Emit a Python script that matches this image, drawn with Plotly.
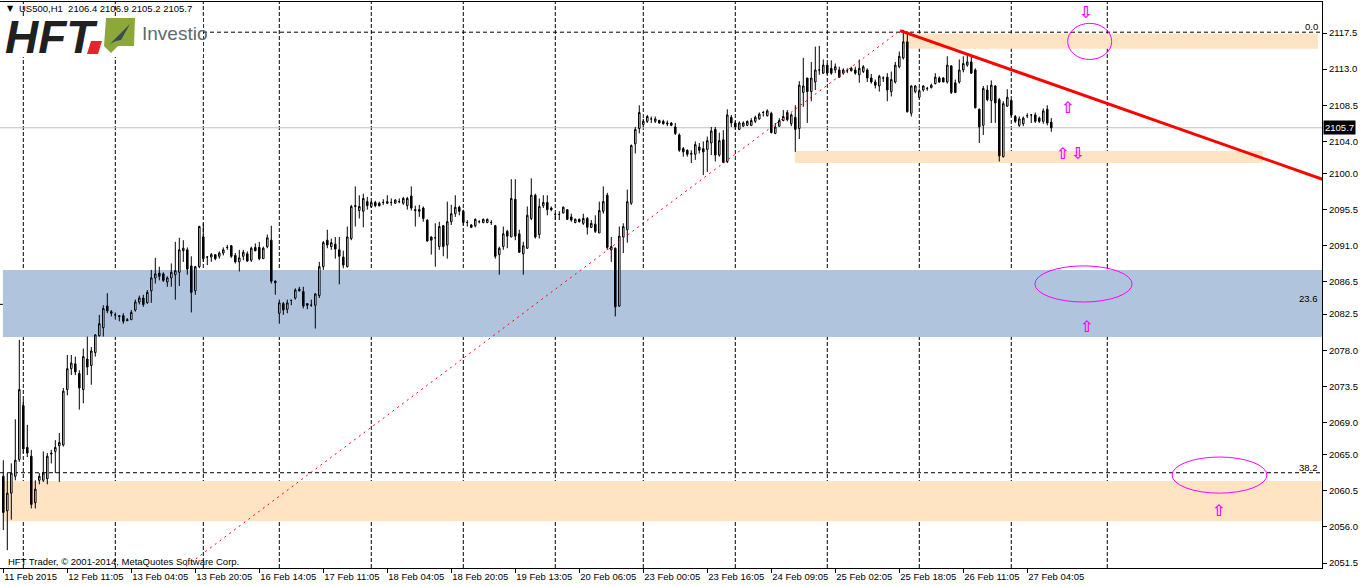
import plotly.graph_objects as go

# ---------------- data (US500, H1) ----------------
bar_open = [
 2062.3,2058.0,2060.2,2062.3,2064.4,2071.1,2065.9,2064.8,2059.0,2061.8,
 2061.8,2062.0,2065.2,2065.4,2066.1,2066.2,2073.1,2075.7,2076.3,2075.1,
 2073.1,2076.9,2076.1,2077.7,2079.8,2080.8,2083.5,2082.8,2082.4,2082.3,
 2082.3,2081.8,2081.8,2083.0,2084.0,2084.5,2083.9,2085.4,2087.0,2087.6,
 2087.5,2086.5,2087.0,2087.4,2087.7,2090.4,2090.5,2088.5,2085.4,2088.4,
 2092.1,2089.6,2089.6,2089.9,2089.7,2090.1,2090.8,2091.0,2089.8,2089.0,
 2089.7,2090.0,2089.2,2090.8,2090.8,2089.4,2090.9,2091.7,2086.6,2082.6,
 2083.8,2083.1,2084.2,2084.5,2085.6,2085.3,2083.8,2083.6,2083.6,2084.8,
 2088.4,2091.7,2090.9,2091.2,2090.5,2089.6,2088.4,2091.9,2095.9,2095.4,
 2095.3,2096.5,2095.9,2096.4,2096.3,2096.4,2096.3,2096.4,2096.3,2096.5,
 2096.3,2096.0,2097.2,2095.5,2095.3,2095.7,2094.2,2092.1,2092.0,2090.9,
 2093.5,2091.1,2094.0,2095.0,2095.8,2095.3,2093.9,2093.6,2093.5,2094.0,
 2093.9,2093.9,2093.9,2093.5,2089.9,2090.9,2092.8,2092.1,2096.8,2092.5,
 2090.0,2090.7,2094.4,2097.3,2092.4,2096.0,2096.4,2095.7,2094.9,2094.9,
 2095.1,2095.5,2094.6,2093.9,2094.3,2093.8,2094.4,2093.3,2093.7,2092.6,
 2095.3,2097.3,2090.5,2090.7,2083.5,2092.1,2093.0,2096.3,2103.7,2105.6,
 2106.1,2106.5,2106.8,2106.5,2106.6,2106.5,2106.3,2106.3,2105.8,2104.8,
 2103.1,2102.9,2102.4,2102.4,2103.3,2103.1,2103.0,2103.8,2105.5,2102.3,
 2104.2,2101.5,2107.0,2106.3,2105.5,2105.9,2106.0,2106.0,2106.5,2106.8,
 2107.6,2107.2,2107.5,2105.0,2105.9,2106.6,2107.6,2106.2,2107.0,2105.6,
 2110.1,2111.9,2110.2,2111.4,2112.9,2112.5,2113.5,2113.1,2112.9,2112.9,
 2112.5,2112.8,2112.8,2112.9,2112.3,2112.7,2112.9,2111.9,2111.4,2110.9,
 2111.9,2112.0,2110.2,2111.4,2113.3,2114.4,2116.4,2107.5,2110.2,2109.5,
 2110.4,2110.6,2110.7,2111.2,2111.9,2111.9,2111.4,2113.4,2111.3,2111.4,
 2112.9,2113.5,2113.9,2112.9,2108.0,2106.0,2110.4,2109.1,2110.9,2109.2,
 2102.1,2108.4,2109.1,2107.1,2106.0,2106.2,2107.2,2107.3,2107.3,2106.9,
 2106.5,2108.0,2106.4]
bar_high = [
 2064.3,2062.7,2063.9,2069.4,2079.3,2071.8,2068.7,2065.6,2061.8,2062.7,
 2065.4,2065.2,2065.6,2066.8,2067.7,2073.3,2077.4,2077.4,2077.2,2075.5,
 2078.2,2079.7,2078.4,2080.0,2082.4,2083.6,2085.1,2083.0,2082.7,2082.3,
 2082.6,2082.0,2083.0,2084.3,2084.8,2084.9,2085.5,2088.0,2089.5,2088.4,
 2087.7,2087.2,2088.8,2091.5,2092.0,2091.7,2090.8,2089.7,2088.5,2093.5,
 2093.8,2089.7,2090.1,2089.9,2090.3,2090.8,2091.1,2091.1,2090.1,2090.5,
 2090.5,2090.3,2090.9,2091.3,2091.5,2090.9,2092.4,2093.5,2086.7,2084.3,
 2084.0,2084.3,2084.3,2085.7,2085.9,2085.9,2083.8,2084.3,2085.1,2089.0,
 2091.6,2093.0,2091.9,2092.1,2092.1,2090.4,2093.4,2096.1,2098.4,2097.3,
 2097.5,2097.1,2096.6,2096.6,2096.5,2096.8,2097.3,2096.9,2096.8,2096.9,
 2097.1,2097.1,2098.4,2096.0,2096.1,2095.9,2094.3,2092.2,2093.8,2094.0,
 2093.6,2096.5,2096.1,2097.3,2096.0,2095.5,2094.2,2093.7,2094.4,2094.2,
 2094.4,2094.4,2094.2,2093.6,2090.9,2093.4,2093.0,2099.3,2099.3,2093.0,
 2091.5,2095.9,2099.4,2097.5,2096.9,2097.3,2097.3,2095.9,2095.1,2095.3,
 2095.9,2095.5,2095.0,2094.4,2094.4,2095.0,2094.6,2094.2,2094.8,2096.5,
 2098.4,2097.6,2092.1,2090.8,2093.4,2093.8,2098.0,2103.6,2105.8,2108.5,
 2106.8,2107.3,2107.1,2107.1,2106.7,2106.7,2106.6,2106.4,2106.3,2105.0,
 2103.3,2103.0,2102.9,2104.0,2103.8,2104.0,2104.6,2105.8,2105.8,2105.1,
 2105.4,2108.0,2107.3,2106.5,2106.5,2106.5,2106.6,2106.9,2107.2,2107.6,
 2107.8,2108.0,2107.7,2106.3,2106.9,2107.9,2107.9,2107.5,2108.5,2111.5,
 2114.4,2111.9,2113.9,2115.8,2115.9,2114.2,2113.7,2114.1,2113.7,2113.3,
 2113.1,2113.1,2113.3,2113.3,2114.2,2113.5,2113.1,2112.4,2111.7,2112.3,
 2112.1,2112.5,2112.7,2113.9,2115.2,2117.9,2117.7,2111.0,2111.0,2110.6,
 2111.0,2110.8,2111.2,2112.5,2112.1,2112.0,2114.6,2113.5,2111.7,2114.2,
 2114.6,2115.0,2114.6,2113.1,2108.1,2110.9,2111.0,2111.6,2111.0,2109.4,
 2109.0,2110.5,2109.2,2107.3,2107.1,2107.1,2107.5,2107.3,2107.6,2107.1,
 2108.1,2108.5,2106.9]
bar_low = [
 2055.6,2053.1,2056.9,2061.8,2064.1,2065.2,2064.7,2058.3,2058.3,2061.3,
 2061.6,2061.3,2063.9,2062.7,2061.6,2066.0,2072.4,2074.9,2074.9,2070.6,
 2071.4,2074.9,2073.7,2077.2,2079.7,2079.7,2082.6,2082.2,2081.8,2081.6,
 2081.3,2081.6,2081.8,2082.8,2083.7,2083.4,2083.8,2083.9,2086.3,2086.7,
 2086.5,2085.9,2085.9,2084.3,2086.0,2089.0,2087.4,2082.7,2084.9,2088.2,
 2089.0,2088.6,2089.0,2089.2,2089.4,2089.8,2090.5,2089.5,2088.8,2087.8,
 2089.2,2089.0,2089.0,2090.3,2089.2,2089.4,2090.7,2086.3,2084.9,2081.3,
 2082.4,2082.6,2083.6,2084.3,2085.3,2083.2,2083.1,2083.4,2080.7,2084.5,
 2088.0,2090.7,2090.5,2089.4,2086.2,2088.2,2088.3,2091.7,2093.4,2094.4,
 2093.3,2095.5,2095.7,2095.8,2095.9,2096.1,2096.2,2096.0,2096.2,2096.3,
 2096.1,2095.5,2095.4,2093.4,2094.6,2094.0,2091.5,2089.9,2088.4,2090.5,
 2089.7,2089.4,2093.6,2094.6,2094.8,2093.6,2093.4,2093.2,2093.3,2093.8,
 2093.8,2093.8,2093.6,2089.4,2087.4,2090.5,2090.7,2092.1,2091.7,2090.1,
 2087.4,2090.6,2094.2,2091.9,2091.9,2095.7,2094.8,2095.3,2094.2,2094.2,
 2095.0,2094.2,2094.0,2093.8,2093.9,2093.6,2092.4,2093.2,2092.6,2092.6,
 2095.0,2090.5,2089.0,2082.2,2083.4,2090.1,2091.4,2096.1,2102.5,2105.0,
 2105.8,2106.3,2106.3,2106.3,2106.2,2106.1,2105.9,2105.9,2104.8,2102.7,
 2102.1,2102.1,2101.3,2101.7,2102.5,2099.8,2100.2,2102.3,2101.5,2102.1,
 2101.3,2101.3,2105.8,2105.5,2105.4,2105.8,2105.9,2105.9,2106.3,2106.7,
 2107.1,2107.1,2105.0,2104.9,2105.8,2106.5,2106.5,2105.9,2102.7,2104.3,
 2108.3,2106.3,2109.0,2110.4,2112.3,2112.4,2112.3,2112.3,2112.5,2111.9,
 2112.3,2112.5,2112.7,2112.3,2111.3,2112.5,2111.4,2111.2,2110.6,2110.2,
 2111.4,2109.0,2109.6,2111.2,2113.1,2114.2,2107.6,2107.1,2110.0,2109.4,
 2110.2,2110.3,2110.6,2111.1,2111.3,2111.4,2111.2,2109.9,2110.0,2111.2,
 2112.6,2113.3,2112.4,2108.1,2103.8,2104.8,2109.0,2106.3,2106.3,2101.5,
 2102.0,2108.3,2107.1,2106.3,2105.8,2105.9,2106.9,2106.3,2106.3,2106.3,
 2106.2,2106.0,2105.2]
bar_close = [
 2057.8,2060.2,2062.7,2064.3,2073.1,2065.7,2065.2,2058.8,2060.7,2062.3,
 2062.7,2064.8,2065.1,2065.9,2066.5,2072.9,2075.7,2076.4,2075.3,2073.3,
 2077.2,2075.9,2077.9,2079.9,2081.3,2083.2,2082.9,2082.6,2082.4,2082.2,
 2081.6,2081.7,2082.7,2084.0,2084.5,2083.7,2085.2,2087.0,2087.5,2087.2,
 2086.7,2087.0,2087.7,2087.9,2090.5,2090.7,2088.1,2085.2,2088.4,2093.4,
 2089.4,2089.6,2089.9,2089.4,2090.1,2090.5,2090.8,2089.7,2089.0,2089.5,
 2090.2,2089.1,2090.7,2090.4,2089.4,2090.7,2092.0,2086.6,2086.4,2083.9,
 2083.0,2083.9,2084.2,2085.5,2085.4,2083.5,2083.6,2083.6,2085.0,2088.4,
 2091.4,2091.1,2091.4,2090.6,2089.7,2088.6,2092.1,2095.9,2096.0,2095.9,
 2096.9,2096.0,2096.4,2096.0,2096.0,2096.4,2096.5,2096.4,2096.7,2096.5,
 2096.9,2096.9,2095.7,2095.4,2095.5,2094.4,2091.6,2091.7,2092.0,2093.4,
 2090.9,2094.0,2095.0,2095.8,2095.3,2093.9,2093.9,2093.3,2094.3,2094.0,
 2094.3,2094.3,2093.9,2089.7,2090.7,2092.5,2092.2,2096.9,2092.2,2090.2,
 2091.0,2094.8,2097.3,2092.1,2095.9,2096.4,2095.5,2095.5,2094.9,2094.9,
 2095.8,2094.3,2094.2,2094.3,2094.0,2094.4,2093.3,2093.8,2092.8,2095.4,
 2096.5,2090.8,2090.9,2083.4,2092.2,2093.4,2096.5,2103.5,2105.5,2107.6,
 2106.5,2107.1,2106.8,2106.8,2106.3,2106.2,2106.2,2106.0,2105.0,2102.9,
 2102.7,2102.4,2102.5,2103.6,2102.9,2102.7,2104.1,2105.3,2102.3,2104.1,
 2101.4,2107.3,2106.3,2105.8,2106.3,2106.3,2106.5,2106.6,2107.0,2107.4,
 2107.6,2107.8,2105.1,2105.8,2106.6,2107.1,2106.7,2107.3,2105.5,2111.0,
 2110.9,2110.2,2111.9,2112.9,2112.9,2113.5,2112.5,2112.5,2113.3,2112.0,
 2112.9,2112.8,2113.1,2112.5,2113.1,2113.3,2111.9,2111.4,2111.0,2112.1,
 2111.9,2110.4,2111.7,2113.5,2114.6,2116.4,2107.7,2110.9,2110.9,2110.3,
 2110.9,2110.6,2111.0,2112.0,2111.4,2111.4,2113.5,2110.1,2110.1,2112.9,
 2113.7,2113.9,2112.5,2108.2,2105.8,2110.6,2109.2,2111.0,2108.8,2102.2,
 2108.7,2109.5,2107.3,2106.5,2106.8,2106.9,2107.2,2107.3,2106.5,2106.5,
 2107.8,2106.3,2105.7]
bar_index = list(range(len(bar_open)))

symbol = "US500,H1"
time_tick_bars = [0, 16, 32, 48, 64, 80, 96, 112, 128, 144, 160, 176, 192, 208, 224, 240, 256]
time_tick_labels = ["11 Feb 2015", "12 Feb 11:05", "13 Feb 04:05", "13 Feb 20:05", "16 Feb 14:05",
                    "17 Feb 11:05", "18 Feb 04:05", "18 Feb 20:05", "19 Feb 13:05", "20 Feb 06:05",
                    "23 Feb 00:05", "23 Feb 16:05", "24 Feb 09:05", "25 Feb 02:05", "25 Feb 18:05",
                    "26 Feb 11:05", "27 Feb 04:05"]
price_ticks = [2117.5, 2113.0, 2108.5, 2104.0, 2100.0, 2095.5, 2091.0, 2086.5, 2082.5,
               2078.0, 2073.5, 2069.0, 2065.0, 2060.5, 2056.0, 2051.5]
day_separator_bars = [5, 28, 50, 69, 92, 115, 138, 160, 183, 206, 229, 252, 276]

# Fibonacci object (anchor bars / prices) and levels shown
fib_anchor_bars = [-160.7, 224.2]
fib_anchor_prices = [1974.0, 2117.6]
fib_levels = [0.0, 23.6, 38.2]

# red trend line (two anchor points)
trend_bars = [224.2, 340.0]
trend_prices = [2117.8, 2097.5]

# zones: bar from, bar to, price low, price high
zone_names = ["blue", "low", "top", "mid"]
zone_bar0 = [-0.1, -0.1, 224.9, 197.9]
zone_bar1 = [335.0, 335.0, 328.7, 314.9]
zone_low = [2079.65, 2056.7, 2115.55, 2101.3]
zone_high = [2088.0, 2061.7, 2117.45, 2102.8]

# ellipses: bar from, bar to, price low, price high
ell_bar0 = [266.1, 257.9, 292.2]
ell_bar1 = [277.1, 282.2, 315.9]
ell_low = [2114.2, 2084.0, 2060.2]
ell_high = [2118.7, 2088.5, 2064.7]

# arrow marks
arrow_bars = [270.6, 266.1, 264.9, 268.6, 270.7, 303.7]
arrow_prices = [2120.1, 2108.2, 2102.5, 2102.5, 2081.0, 2058.1]
arrow_dirs = ["down", "up", "up", "down", "up", "up"]

# ---------------- figure ----------------
W, H = 1362, 586
ML, MR, MT, MB = 0, 40, 2, 18
PW, PH = W - ML - MR, H - MT - MB
X_RANGE = [-0.825, 329.68]
Y_RANGE = [2050.88, 2121.36]

def px(x):
    return (x - ML) / PW

def py(y):
    return (H - MB - y) / PH

FONT = "Liberation Sans"
fig = go.Figure()
fig.add_trace(go.Candlestick(
    x=bar_index, open=bar_open, high=bar_high, low=bar_low, close=bar_close,
    increasing=dict(line=dict(color="black", width=1), fillcolor="white"),
    decreasing=dict(line=dict(color="black", width=1), fillcolor="black"),
    whiskerwidth=0, hoverinfo="skip", showlegend=False))

shapes = []
zone_colors = {"blue": "#B0C4DE", "low": "#FFE4C4", "top": "#FFE4C4", "mid": "#FFE4C4"}
for n, a, b, lo, hi in zip(zone_names, zone_bar0, zone_bar1, zone_low, zone_high):
    shapes.append(dict(type="rect", xref="x", yref="y", x0=a, x1=b, y0=lo, y1=hi,
                       fillcolor=zone_colors[n], line=dict(width=0), layer="below"))
for b in day_separator_bars:
    shapes.append(dict(type="line", xref="x", yref="paper", x0=b, x1=b, y0=0, y1=1,
                       line=dict(color="black", width=1, dash="4px,2px"), layer="below"))
fib_range = fib_anchor_prices[1] - fib_anchor_prices[0]
for lv in fib_levels:
    p = fib_anchor_prices[1] - lv / 100.0 * fib_range
    shapes.append(dict(type="line", xref="paper", yref="y", x0=0, x1=1, y0=p, y1=p,
                       line=dict(color="black", width=1, dash="4px,3px"), layer="below"))
# current price line
shapes.append(dict(type="line", xref="paper", yref="y", x0=0, x1=1, y0=bar_close[-1], y1=bar_close[-1],
                   line=dict(color="#C0C0C0", width=1), layer="below"))
# fib diagonal
shapes.append(dict(type="line", xref="x", yref="y", x0=fib_anchor_bars[0], x1=fib_anchor_bars[1],
                   y0=fib_anchor_prices[0], y1=fib_anchor_prices[1] + 0.2,
                   line=dict(color="red", width=1, dash="2px,4px"), layer="above"))
# trend line
shapes.append(dict(type="line", xref="x", yref="y", x0=trend_bars[0], x1=trend_bars[1],
                   y0=trend_prices[0], y1=trend_prices[1],
                   line=dict(color="red", width=3), layer="above"))
for a, b, lo, hi in zip(ell_bar0, ell_bar1, ell_low, ell_high):
    shapes.append(dict(type="circle", xref="x", yref="y", x0=a, x1=b, y0=lo, y1=hi,
                       line=dict(color="#FF00FF", width=1), layer="above"))

# logo (HFT + Investio)
shapes.append(dict(type="rect", xref="paper", yref="paper", x0=px(0), x1=px(203), y0=py(57), y1=py(16),
                   fillcolor="white", line=dict(width=0), layer="above"))
shapes.append(dict(type="path", xref="paper", yref="paper",
                   path="M %f %f L %f %f L %f %f L %f %f Z" % (px(87), py(54), px(91), py(41), px(102), py(41), px(98), py(54)),
                   fillcolor="#E3262B", line=dict(width=0), layer="above"))
shapes.append(dict(type="path", xref="paper", yref="paper",
                   path="M %f %f L %f %f L %f %f L %f %f L %f %f L %f %f Z" % (
                       px(106), py(18), px(135), py(18), px(134), py(46), px(118), py(46),
                       px(111), py(53), px(104), py(46)),
                   fillcolor="#8CA83A", line=dict(width=0), layer="above"))
shapes.append(dict(type="path", xref="paper", yref="paper",
                   path="M %f %f L %f %f L %f %f L %f %f Z" % (
                       px(110), py(44), px(130), py(24), px(121), py(40), px(116), py(41)),
                   fillcolor="#3C4A52", line=dict(width=0), layer="above"))

annotations = []
annotations.append(dict(xref="paper", yref="paper", x=px(3), y=py(37), xanchor="left", yanchor="middle",
                        text="<b><i>HFT</i></b>", showarrow=False, height=40, valign="middle",
                        font=dict(family=FONT, size=46, color="#202020")))
annotations.append(dict(xref="paper", yref="paper", x=px(140), y=py(34), xanchor="left", yanchor="middle",
                        text="Investio", showarrow=False,
                        font=dict(family="Liberation Sans Narrow, Liberation Sans", size=19, color="#5C6A73")))
# title line
annotations.append(dict(xref="paper", yref="paper", x=px(5), y=py(9), xanchor="left", yanchor="middle",
                        text="▼", showarrow=False, font=dict(family="DejaVu Sans", size=8, color="black")))
annotations.append(dict(xref="paper", yref="paper", x=px(17), y=py(9), xanchor="left", yanchor="middle",
                        text="%s  %.1f %.1f %.1f %.1f" % (symbol, bar_open[-1], bar_high[-1], bar_low[-1], bar_close[-1]),
                        showarrow=False, font=dict(family=FONT, size=9.5, color="black")))
annotations.append(dict(xref="paper", yref="paper", x=px(6), y=py(561), xanchor="left", yanchor="middle",
                        text="HFT Trader, © 2001-2014, MetaQuotes Software Corp.", showarrow=False,
                        font=dict(family=FONT, size=9.5, color="black")))
for lv in fib_levels:
    p = fib_anchor_prices[1] - lv / 100.0 * fib_range
    annotations.append(dict(xref="paper", yref="y", x=1, y=p, xanchor="right", yanchor="bottom",
                            xshift=-2, yshift=-2, text="%.1f" % lv, showarrow=False,
                            font=dict(family=FONT, size=9.5, color="black")))
for b, p, d in zip(arrow_bars, arrow_prices, arrow_dirs):
    annotations.append(dict(xref="x", yref="y", x=b, y=p, xanchor="center", yanchor="middle",
                            text="<b>%s</b>" % ("⇧" if d == "up" else "⇩"), showarrow=False,
                            font=dict(family="DejaVu Sans", size=16, color="#FF00FF")))
# current price label on axis
annotations.append(dict(xref="paper", yref="y", x=1, y=bar_close[-1], xanchor="left", yanchor="middle",
                        xshift=1, text="%.1f" % bar_close[-1], showarrow=False, bgcolor="black",
                        borderpad=1, font=dict(family=FONT, size=9.5, color="white")))

fig.update_layout(
    width=W, height=H, margin=dict(l=ML, r=MR, t=MT, b=MB, autoexpand=False),
    paper_bgcolor="white", plot_bgcolor="white", boxgap=0.45,
    shapes=shapes, annotations=annotations, showlegend=False,
    font=dict(family=FONT, size=9.5, color="black"),
    xaxis=dict(range=X_RANGE, rangeslider=dict(visible=False), showgrid=False, zeroline=False,
               showline=True, linecolor="black", linewidth=1, mirror=True, automargin=False,
               tickmode="array", tickvals=time_tick_bars, ticktext=time_tick_labels, tickangle=0,
               ticks="outside", ticklen=4, tickcolor="black", ticklabelposition="outside right",
               tickfont=dict(family=FONT, size=9.5, color="black")),
    yaxis=dict(range=Y_RANGE, side="right", showgrid=False, zeroline=False, automargin=False,
               showline=True, linecolor="black", linewidth=1,
               tickmode="array", tickvals=price_ticks, ticktext=["%.1f" % t for t in price_ticks],
               ticks="outside", ticklen=4, tickcolor="black",
               tickfont=dict(family=FONT, size=9.5, color="black")),
)
fig.write_html("out.html", config={"displayModeBar": False})

# remove the browser's default page margin so the figure sits at the window's corner
with open("out.html", "r", encoding="utf-8") as fh:
    page = fh.read()
page = page.replace("<head>", "<head><style>html,body{margin:0;padding:0;overflow:hidden;}</style>", 1)
with open("out.html", "w", encoding="utf-8") as fh:
    fh.write(page)
